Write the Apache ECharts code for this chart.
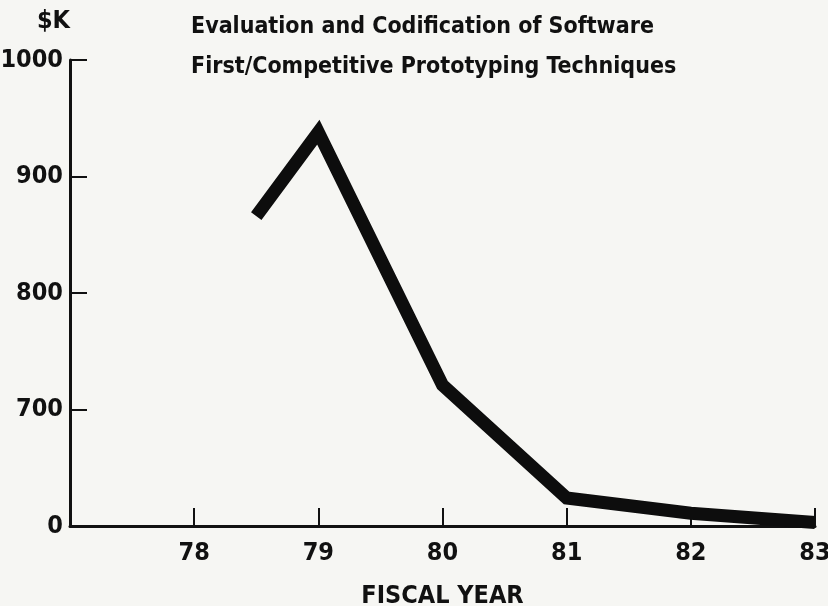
<!DOCTYPE html>
<html>
<head>
<meta charset="utf-8">
<script src="https://cdn.jsdelivr.net/npm/echarts@6/dist/echarts.min.js"></script>
<style>
  html, body { margin: 0; padding: 0; background: #f6f6f3; }
  #container { width: 828px; height: 606px; }
</style>
</head>
<body>
<div id="container"></div>
<script>
  // fiscal years (x) and cost in $K as plotted (broken axis: 600 position is labelled 0)
  var years = [78.5, 79, 80, 81, 82, 83];
  var costK = [866, 938, 721, 624, 611, 603];
  var yTicks = [600, 700, 800, 900, 1000];

  var font = '"DejaVu Sans Condensed", "Liberation Sans Narrow", Arial, sans-serif';

  var dom = document.getElementById("container");
  var myChart = echarts.init(dom);

  var points = years.map(function (y, i) { return [y, costK[i]]; });

  var option = {
      backgroundColor: '#f6f6f3',
      animation: false,
      title: {
          text: 'Evaluation and Codification of Software\nFirst/Competitive Prototyping Techniques',
          left: 186,
          top: 2,
          textStyle: {
              fontFamily: font,
              fontWeight: 'bold',
              fontSize: 23,
              lineHeight: 40,
              color: '#111'
          }
      },
      grid: { left: 70, right: 13, top: 60, bottom: 80, outerBoundsMode: 'none', containLabel: false },
      xAxis: {
          type: 'value',
          min: 77,
          max: 83,
          interval: 1,
          name: 'FISCAL YEAR',
          nameLocation: 'middle',
          nameGap: 58,
          nameTextStyle: { fontFamily: font, fontWeight: 'bold', fontSize: 25, color: '#111' },
          axisLine: { lineStyle: { color: '#111', width: 3 } },
          axisTick: { inside: true, length: 18, lineStyle: { color: '#111', width: 2 } },
          axisLabel: {
              margin: 15,
              fontFamily: font, fontWeight: 'bold', fontSize: 25, color: '#111',
              formatter: function (v) { return v === 77 ? '' : String(v); },
              rich: {}
          },
          splitLine: { show: false }
      },
      yAxis: {
          type: 'value',
          min: 600,
          max: 1000,
          interval: 100,
          name: '$K',
          nameLocation: 'end',
          nameGap: 26,
          nameTextStyle: { fontFamily: font, fontWeight: 'bold', fontSize: 25, color: '#111', align: 'right', padding: [0, 0, 0, 0] },
          axisLine: { show: true, lineStyle: { color: '#111', width: 3 } },
          axisTick: { show: true, inside: true, length: 17, lineStyle: { color: '#111', width: 2 } },
          axisLabel: {
              margin: 7,
              fontFamily: font, fontWeight: 'bold', fontSize: 25, color: '#111',
              formatter: function (v) { return v === 600 ? '0' : String(v); }
          },
          splitLine: { show: false }
      },
      series: [{
          type: 'line',
          data: points,
          symbol: 'none',
          lineStyle: { color: '#0d0d0d', width: 13, join: 'miter', cap: 'butt' }
      }]
  };

  if (option && typeof option === "object") {
      myChart.setOption(option, true);
  }
</script>
</body>
</html>
